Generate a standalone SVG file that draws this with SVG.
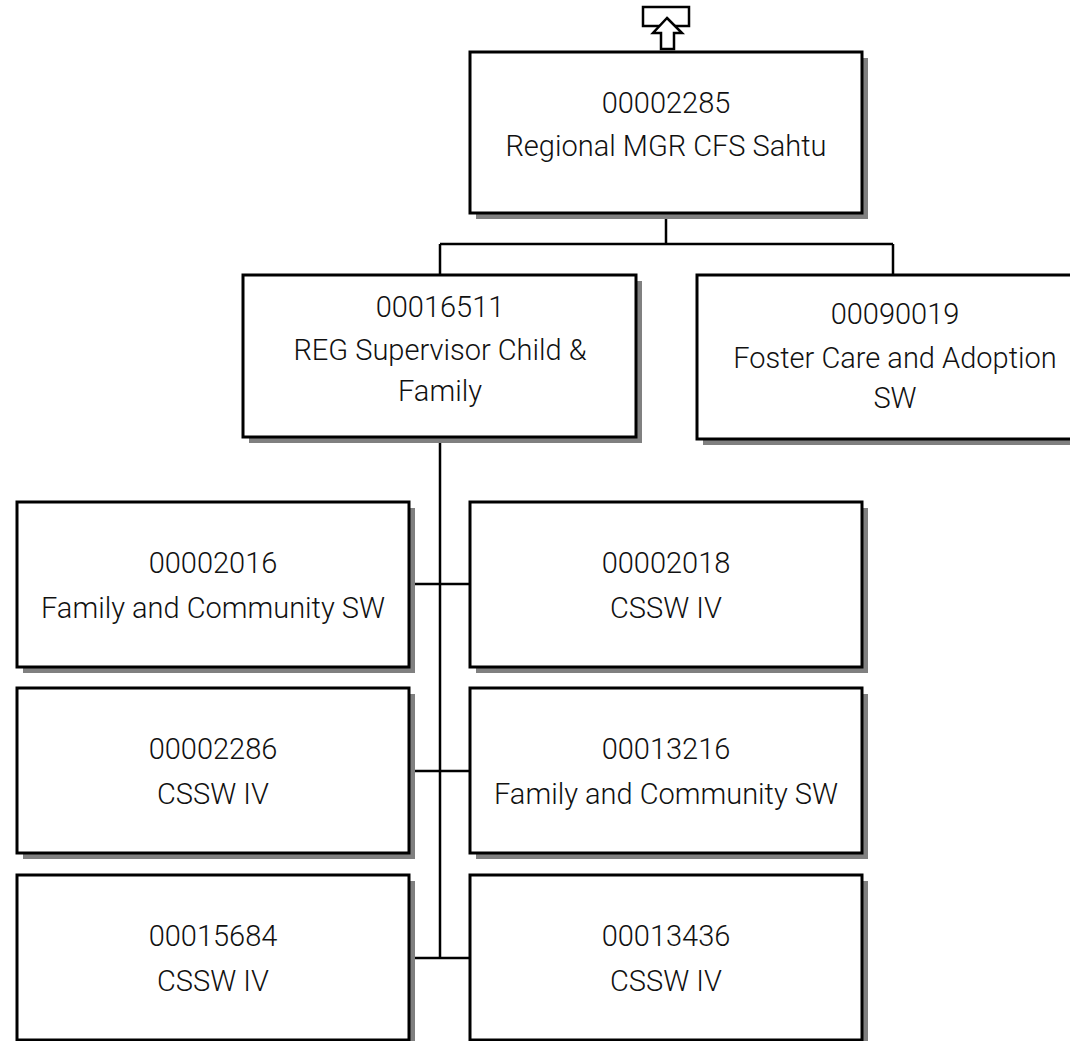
<svg xmlns="http://www.w3.org/2000/svg" width="1070" height="1041" viewBox="0 0 1070 1041">
<style>
.shadow{fill:#808080;stroke:none}
.box{fill:#fff;stroke:#000;stroke-width:3}
.conn{stroke:#000;stroke-width:2.5;fill:none}
text{font-family:Roboto,"Liberation Sans",sans-serif;font-weight:300;font-size:29px;fill:#111;text-anchor:middle}
</style>
<rect width="1070" height="1041" fill="#fff"/>
<g id="connectors">
<path class="conn" d="M666 213V244M440 244H893M440 244V275M893 244V275M440 437V958M409 584H470M409 771H470M409 958H470"/>
</g>
<g id="n00002285">
<rect class="shadow" x="476" y="58" width="392" height="161"/>
<rect class="box" x="470" y="52" width="392" height="161"/>
<text x="666" y="113">00002285</text>
<text x="666" y="156">Regional MGR CFS Sahtu</text>
</g>
<g id="up-icon">
<rect x="643" y="7" width="46" height="19" fill="#fff" stroke="#000" stroke-width="2.5"/>
<polygon points="667,18 682,33 674,33 674,49 661,49 661,33 653,33" fill="#fff" stroke="#000" stroke-width="2.5"/>
</g>
<g id="n00016511">
<rect class="shadow" x="249" y="281" width="393" height="162"/>
<rect class="box" x="243" y="275" width="393" height="162"/>
<text x="440" y="317">00016511</text>
<text x="440" y="360">REG Supervisor Child &amp;</text>
<text x="440" y="401">Family</text>
</g>
<g id="n00090019">
<rect class="shadow" x="703" y="281" width="393" height="164"/>
<rect class="box" x="697" y="275" width="393" height="164"/>
<text x="895" y="324">00090019</text>
<text x="895" y="368">Foster Care and Adoption</text>
<text x="895" y="408">SW</text>
</g>
<g id="n00002016">
<rect class="shadow" x="23" y="508" width="392" height="165"/>
<rect class="box" x="17" y="502" width="392" height="165"/>
<text x="213" y="573">00002016</text>
<text x="213" y="618">Family and Community SW</text>
</g>
<g id="n00002018">
<rect class="shadow" x="476" y="508" width="392" height="165"/>
<rect class="box" x="470" y="502" width="392" height="165"/>
<text x="666" y="573">00002018</text>
<text x="666" y="618">CSSW IV</text>
</g>
<g id="n00002286">
<rect class="shadow" x="23" y="694" width="392" height="165"/>
<rect class="box" x="17" y="688" width="392" height="165"/>
<text x="213" y="759">00002286</text>
<text x="213" y="804">CSSW IV</text>
</g>
<g id="n00013216">
<rect class="shadow" x="476" y="694" width="392" height="165"/>
<rect class="box" x="470" y="688" width="392" height="165"/>
<text x="666" y="759">00013216</text>
<text x="666" y="804">Family and Community SW</text>
</g>
<g id="n00015684">
<rect class="shadow" x="23" y="881" width="392" height="165"/>
<rect class="box" x="17" y="875" width="392" height="165"/>
<text x="213" y="946">00015684</text>
<text x="213" y="991">CSSW IV</text>
</g>
<g id="n00013436">
<rect class="shadow" x="476" y="881" width="392" height="165"/>
<rect class="box" x="470" y="875" width="392" height="165"/>
<text x="666" y="946">00013436</text>
<text x="666" y="991">CSSW IV</text>
</g>
</svg>
